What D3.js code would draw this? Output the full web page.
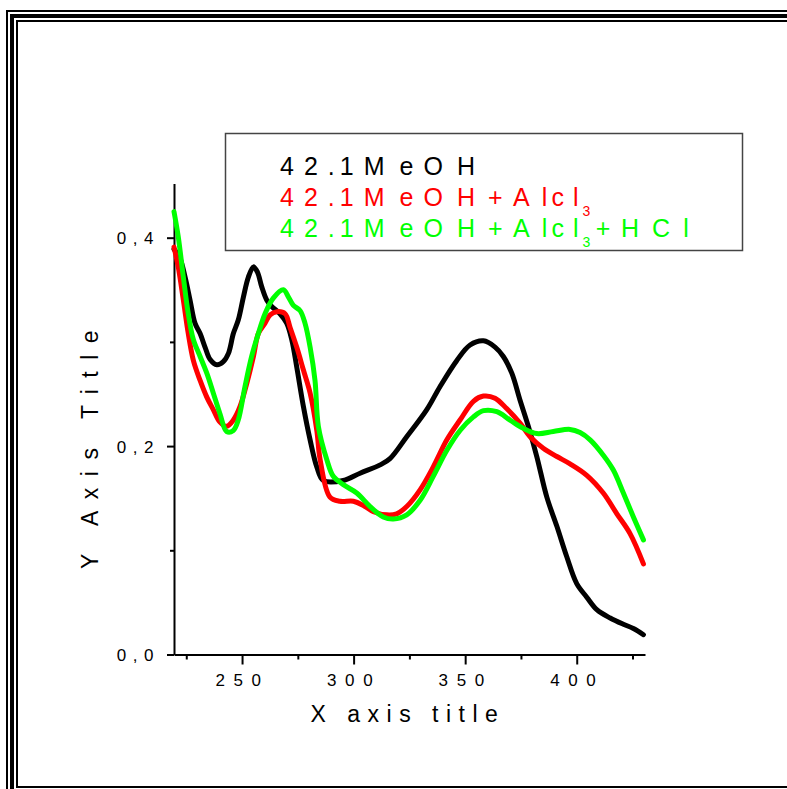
<!DOCTYPE html>
<html>
<head>
<meta charset="utf-8">
<script src="https://cdn.jsdelivr.net/npm/d3@7/dist/d3.min.js"></script>
<style>
  html, body { margin: 0; padding: 0; background: #fff; }
  svg { display: block; font-family: "Liberation Sans", Arial, sans-serif; }
</style>
</head>
<body>
<svg id="chart" width="787" height="789"></svg>
<script>
// ---------- data ----------
const seriesNames = ["42.1MeOH", "42.1MeOH+Alcl3", "42.1MeOH+Alcl3+HCl"];
const seriesColors = ["#000000", "#ff0000", "#00ff00"];

const blackX = [219.5,222.2,224.5,226.7,228.9,231.2,233.4,235.7,238.7,241.6,243.9,246.1,248.3,250.6,252.8,255.1,256.9,258.8,261.1,263.3,267.0,270.0,272.3,274.5,277.5,280.5,283.5,286.4,295.4,302.9,311.9,316.3,323.8,332.8,338.7,346.2,352.2,358.2,363.4,367.1,370.9,374.6,378.3,382.1,386.6,391.1,395.5,400.0,404.5,409.0,415.0,420.9,425.4,429.9];
const blackY = [0.389,0.380,0.362,0.340,0.318,0.308,0.295,0.283,0.278,0.281,0.289,0.308,0.321,0.343,0.362,0.372,0.367,0.353,0.340,0.334,0.327,0.318,0.302,0.276,0.238,0.206,0.180,0.167,0.167,0.174,0.182,0.188,0.209,0.235,0.257,0.282,0.297,0.301,0.295,0.286,0.270,0.244,0.219,0.190,0.151,0.123,0.094,0.068,0.055,0.043,0.035,0.029,0.025,0.019];

const redX = [219.5,221.4,223.7,225.9,228.2,231.2,234.2,237.1,240.1,243.1,246.1,249.1,252.1,255.1,257.3,260.3,262.6,265.6,269.3,271.5,274.5,277.5,280.5,283.5,285.0,289.4,293.9,299.9,304.4,308.9,314.9,319.3,323.8,329.8,335.7,341.8,347.7,353.7,358.2,363.4,368.6,374.6,379.1,385.0,391.1,397.0,404.5,411.9,418.0,423.9,429.9];
const redY = [0.391,0.372,0.340,0.308,0.282,0.263,0.247,0.235,0.223,0.219,0.225,0.238,0.260,0.286,0.308,0.318,0.326,0.329,0.327,0.314,0.295,0.273,0.251,0.215,0.187,0.151,0.147,0.147,0.143,0.137,0.134,0.135,0.142,0.158,0.180,0.206,0.225,0.243,0.248,0.246,0.236,0.222,0.209,0.198,0.190,0.183,0.172,0.155,0.135,0.116,0.087];

const greenX = [219.5,221.4,223.7,225.9,228.2,231.2,234.2,237.1,240.1,243.1,246.1,248.3,251.3,254.3,257.3,260.3,264.0,268.5,270.8,273.0,276.0,278.2,280.5,282.7,284.2,288.0,290.9,295.4,301.4,307.4,313.3,317.8,323.8,329.8,335.7,341.8,347.7,353.7,358.2,364.2,370.1,376.1,382.1,389.5,397.0,401.5,406.0,412.0,416.4,420.9,425.4,429.9];
const greenY = [0.425,0.401,0.362,0.327,0.302,0.286,0.270,0.251,0.231,0.214,0.215,0.225,0.257,0.286,0.308,0.327,0.342,0.350,0.343,0.335,0.330,0.318,0.295,0.263,0.219,0.187,0.171,0.163,0.155,0.142,0.132,0.130,0.134,0.148,0.171,0.196,0.215,0.228,0.234,0.233,0.225,0.217,0.212,0.214,0.216,0.213,0.206,0.191,0.177,0.155,0.132,0.110];

const xMajorTicks = [250, 300, 350, 400];
const xMinorTicks = [225, 275, 325, 375, 425];
const yMajorTicks = [0.0, 0.2, 0.4];
const yMinorTicks = [0.1, 0.3];
const xTitle = "X axis title";
const yTitle = "Y Axis Title";

// legend rows: [text, isSubscript]
const legendParts = [
  [["42.1MeOH", false]],
  [["42.1MeOH+Alcl", false], ["3", true]],
  [["42.1MeOH+Alcl", false], ["3", true], ["+HCl", false]]
];

// ---------- drawing ----------
const svg = d3.select("#chart");
svg.append("rect").attr("width", 787).attr("height", 789).attr("fill", "#fff");

// decorative triple frame
const frame = svg.append("g").attr("fill", "none").attr("stroke", "#000");
frame.append("rect").attr("x", 7).attr("y", 11).attr("width", 900).attr("height", 900).attr("stroke-width", 2);
frame.append("rect").attr("x", 12).attr("y", 16).attr("width", 900).attr("height", 900).attr("stroke-width", 4);
frame.append("rect").attr("x", 17).attr("y", 21).attr("width", 900).attr("height", 766).attr("stroke-width", 2);

const x = d3.scaleLinear().domain([219.5, 430.6]).range([174, 645]);
const y = d3.scaleLinear().domain([0, 0.452]).range([654.5, 183.5]);

const fmtY = d => d3.format(".1f")(d).replace(".", ",");

// x axis
const gx = svg.append("g").attr("transform", "translate(0,654.5)");
gx.call(d3.axisBottom(x).tickValues(xMajorTicks).tickSize(10).tickSizeOuter(0).tickFormat(d => d));
const gxm = svg.append("g").attr("transform", "translate(0,654.5)");
gxm.call(d3.axisBottom(x).tickValues(xMinorTicks).tickSize(5).tickSizeOuter(0).tickFormat(""));
gxm.select(".domain").remove();

// y axis
const gy = svg.append("g").attr("transform", "translate(174,0)");
gy.call(d3.axisLeft(y).tickValues(yMajorTicks).tickSize(7).tickSizeOuter(0).tickFormat(fmtY));
const gym = svg.append("g").attr("transform", "translate(174,0)");
gym.call(d3.axisLeft(y).tickValues(yMinorTicks).tickSize(4).tickSizeOuter(0).tickFormat(""));
gym.select(".domain").remove();

svg.selectAll(".domain").attr("stroke", "#000").attr("stroke-width", 2);
svg.selectAll(".tick line").attr("stroke", "#000").attr("stroke-width", 2);

gx.selectAll(".tick text")
  .attr("y", 31).attr("dy", null)
  .attr("font-size", 17).attr("letter-spacing", "8.6px")
  .attr("fill", "#000").attr("font-family", "Liberation Sans, Arial, sans-serif");
gy.selectAll(".tick text")
  .attr("x", -57.3).attr("dy", "0.36em").attr("text-anchor", "start")
  .attr("font-size", 17).attr("letter-spacing", "6.5px")
  .attr("fill", "#000").attr("font-family", "Liberation Sans, Arial, sans-serif");

// axis titles
svg.append("text")
  .attr("x", 408).attr("y", 722)
  .attr("text-anchor", "middle")
  .attr("font-size", 23).attr("letter-spacing", "7.5px")
  .text(xTitle);
svg.append("text")
  .attr("transform", "translate(98,444) rotate(-90)")
  .attr("text-anchor", "middle")
  .attr("font-size", 23).attr("letter-spacing", "11.5px")
  .text(yTitle);

// curves
const series = [
  {xs: blackX, ys: blackY, c: seriesColors[0]},
  {xs: redX, ys: redY, c: seriesColors[1]},
  {xs: greenX, ys: greenY, c: seriesColors[2]}
];
const line = d3.line().x(d => x(d[0])).y(d => y(d[1])).curve(d3.curveCatmullRom.alpha(0.5));
series.forEach(s => {
  const pts = s.xs.map((v, i) => [v, s.ys[i]]);
  svg.append("path").datum(pts)
    .attr("fill", "none").attr("stroke", s.c)
    .attr("stroke-width", 5).attr("stroke-linejoin", "round").attr("stroke-linecap", "round")
    .attr("d", line);
});

// legend
const lg = svg.append("g");
lg.append("rect").attr("x", 225.5).attr("y", 133.5).attr("width", 517).attr("height", 117)
  .attr("fill", "#fff").attr("stroke", "#444").attr("stroke-width", 1.5);

// measure natural advance of a char at a size
const meas = svg.append("text").attr("visibility", "hidden");
function adv(ch, size) {
  meas.attr("font-size", size).text(ch);
  return meas.node().getComputedTextLength();
}
const spreadK = 1.72;
const mainSize = 25, subSize = 14, subShift = 10;
const rowBaselines = [175, 206, 237];
legendParts.forEach((parts, ri) => {
  const t = lg.append("text").attr("fill", seriesColors[ri]);
  let cx = 280;
  parts.forEach(([str, sub]) => {
    const size = sub ? subSize : mainSize;
    const yb = rowBaselines[ri] + (sub ? subShift : 0);
    for (const ch of str) {
      t.append("tspan").attr("x", cx).attr("y", yb).attr("font-size", size).text(ch);
      cx += adv(ch, size) * spreadK;
    }
  });
});
meas.remove();
</script>
</body>
</html>
